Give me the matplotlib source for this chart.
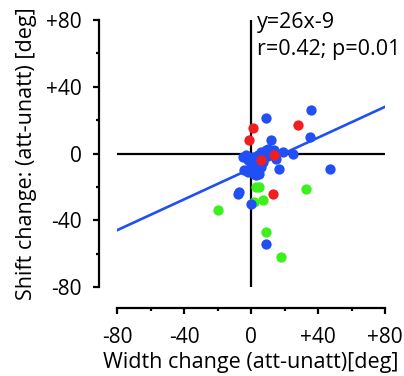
"""Shift change vs width change scatter with fitted line."""

import matplotlib
matplotlib.use("Agg")
import matplotlib.pyplot as plt
import numpy as np

# data (deg)
blue_x = [36, 9, 35, 12, 47, 17, 25, 19, -5, -3, 1, 6, 9, 12, 14, 8, 4, 3,
          -4, -2, 2, 5, 6, 3, -8, -7, 0, 9, 10, 15, 7, -1, -2, 0, 1, 11, 4, 5]
blue_y = [26, 21, 10, 8, -9, -9, 0, 1, -2, -1, -2, 1, 2, 1, 2, -2, -4, -7,
          -10, -11, -12, -10, -8, -13, -24, -23, -30, -54, 3, -3, -5, -3,
          -4, -6, -9, 0, -1, -12]
red_x = [1, -1, 28, 6, 14, 13]
red_y = [15, 8, 17, -4, -1, -24]
green_x = [-20, 3, 5, 2, 7, 33, 9, 18, 5]
green_y = [-34, -20, -20, -29, -28, -21, -47, -62, -7]

fit_slope = 0.4625
fit_intercept = -9
fit_range = [-80, 80]

ticks_major = [-80, -40, 0, 40, 80]
tick_labels = ["-80", "-40", "0", "+40", "+80"]
ticks_minor = [-60, -20, 20, 60]

BLUE, RED, GREEN = "#2050f5", "#f01e1e", "#3cf01c"

plt.rcParams["font.family"] = ["Open Sans", "DejaVu Sans"]

fig = plt.figure(figsize=(4.04, 3.76), dpi=100)
ax = fig.add_axes([0.2896, 0.2367, 0.6634, 0.710])

ax.axhline(0, color="black", lw=1.6, zorder=1)
ax.axvline(0, color="black", lw=1.6, zorder=1)

fx = np.array(fit_range)
ax.plot(fx, fit_slope * fx + fit_intercept, color=BLUE, lw=1.9, zorder=2)

ms = 55
ax.scatter(green_x, green_y, s=ms, color=GREEN, lw=0, zorder=3)
ax.scatter(blue_x, blue_y, s=ms, color=BLUE, lw=0, zorder=3)
ax.scatter(red_x, red_y, s=ms, color=RED, lw=0, zorder=4)

ax.set_xlim(-80, 80)
ax.set_ylim(-80, 80)

for side in ("top", "right"):
    ax.spines[side].set_visible(False)
ax.spines["left"].set_position(("outward", 13))
ax.spines["bottom"].set_position(("outward", 15))
for side in ("left", "bottom"):
    ax.spines[side].set_linewidth(1.6)

ax.set_xticks(ticks_major)
ax.set_xticklabels(tick_labels)
ax.set_yticks(ticks_major)
ax.set_yticklabels(tick_labels)
ax.set_xticks(ticks_minor, minor=True)
ax.set_yticks(ticks_minor, minor=True)
ax.tick_params(which="major", length=4.5, width=1.6, labelsize=15)
ax.tick_params(which="minor", length=2.5, width=1.6)
ax.tick_params(axis="x", which="major", pad=9)
ax.tick_params(axis="y", which="major", pad=8)

ax.set_xlabel("Width change (att-unatt)[deg]", fontsize=15.5, labelpad=3)
ax.set_ylabel("Shift change: (att-unatt) [deg]", fontsize=15.5, labelpad=6)

ax.text(3.5, 75, "y=26x-9", fontsize=15.5, va="baseline", ha="left")
ax.text(3.5, 59, "r=0.42; p=0.01", fontsize=15.5, va="baseline", ha="left")

fig.savefig("out.png", dpi=100)
